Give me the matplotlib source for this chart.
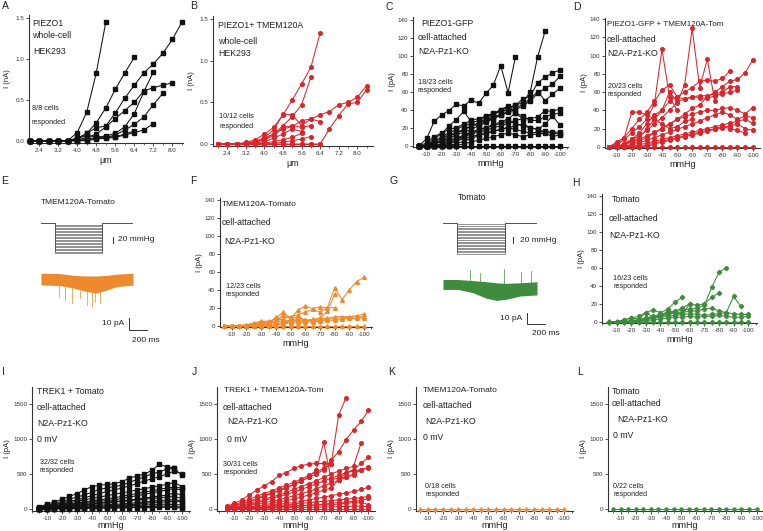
import matplotlib
matplotlib.use("Agg")
import matplotlib.pyplot as plt
from matplotlib.ticker import MultipleLocator

plt.rcParams['font.family'] = ['Liberation Sans', 'DejaVu Sans']

W, H = 763, 531

RED = '#d8262c'
ORANGE = '#ee8a2e'
GREEN = '#3f8c3f'
BLACK = '#111111'
TXT = '#222222'

# ---- data -----------------------------------------------------------
UM = [2.0, 2.4, 2.8, 3.2, 3.6, 4.0, 4.4, 4.8, 5.2, 5.6, 6.0, 6.4, 6.8, 7.2, 7.6, 8.0, 8.4]
UM_TICKS = [2.4, 3.2, 4.0, 4.8, 5.6, 6.4, 7.2, 8.0]
P_STEPS = [-5, -10, -15, -20, -25, -30, -35, -40, -45, -50,
           -55, -60, -65, -70, -75, -80, -85, -90, -95, -100]
P_TICKS = [-10, -20, -30, -40, -50, -60, -70, -80, -90, -100]
P_LABELS = ['-10', '-20', '-30', '-40', '-50', '-60', '-70', '-80', '-90', '-100']
H_LABELS = ['-10', '-20', '-30', '-40', '-50', '-60', '-75', '-80', '-90', '-100']

# A: PIEZO1, whole-cell (nA)
A_cells = [
    [0, 0, 0, 0, 0, 0.10, 0.35, 0.83, 1.45],
    [0, 0, 0, 0, 0, 0.03, 0.09, 0.22, 0.40, 0.63, 0.83, 1.02],
    [0, 0, 0, 0, 0, 0.02, 0.09, 0.16, 0.18, 0.34, 0.52, 0.68, 0.83, 0.94, 1.07, 1.24, 1.45],
    [0, 0, 0, 0, 0, 0.01, 0.04, 0.08, 0.17, 0.27, 0.37, 0.47, 0.61, 0.65, 0.68, 0.71],
    [0, 0, 0, 0, 0, 0, 0.02, 0.04, 0.06, 0.09, 0.17, 0.33, 0.60, 0.84],
    [0, 0, 0, 0, 0, 0, 0.01, 0.03, 0.04, 0.07, 0.13, 0.20, 0.29, 0.44, 0.58],
    [0, 0, 0, 0, 0, 0, 0, 0.02, 0.03, 0.04, 0.07, 0.10, 0.13, 0.21],
    [0, 0, 0, 0, 0, 0.03, 0.06, 0.05, 0.04, 0.05, 0.08, 0.12],
]

# B: PIEZO1 + TMEM120A, whole-cell (nA)
B_cells = [
    [0, 0, 0, 0.02, 0.05, 0.12, 0.20, 0.35, 0.53, 0.72, 0.92, 1.33],
    [0, 0, 0, 0.01, 0.03, 0.06, 0.12, 0.22, 0.33, 0.47, 0.80],
    [0, 0, 0, 0, 0.02, 0.08, 0.17, 0.36, 0.35, 0.22, 0.30, 0.35, 0.39, 0.47, 0.50, 0.56, 0.70],
    [0, 0, 0, 0, 0, 0, 0, 0, 0, 0, 0, 0, 0.18, 0.34, 0.48, 0.50, 0.65],
    [0, 0, 0, 0, 0.03, 0.07, 0.12, 0.18, 0.21, 0.28, 0.30, 0.27],
    [0, 0, 0, 0, 0.02, 0.05, 0.10, 0.20, 0.22, 0.20, 0.22],
    [0, 0, 0, 0, 0.01, 0.03, 0.07, 0.12, 0.18, 0.15],
    [0, 0, 0, 0, 0, 0.01, 0.03, 0.05, 0.08, 0.13],
    [0, 0, 0, 0, 0, 0, 0.01, 0.02, 0.04, 0.06, 0.09],
    [0, 0, 0, 0, 0, 0, 0, 0, 0, 0, 0, 0],
]

# C: PIEZO1-GFP, cell-attached (pA)
C_cells = [
    [0, 8, 27, 34, 39, 46, 44, 51, 47, 58, 67, 89, 59, 99],
    [0, 0, 5, 10, 14, 18, 22, 25, 28, 32, 35, 38, 40, 45, 48, 60, 99, 127],
    [0, 3, 10, 14, 18, 20, 24, 28, 30, 33, 36, 40, 42, 45, 52, 55, 70, 76, 81, 84],
    [0, 0, 4, 8, 12, 15, 18, 22, 25, 28, 30, 34, 37, 40, 44, 50, 58, 64, 68, 77],
    [0, 0, 2, 5, 8, 12, 15, 18, 22, 26, 30, 34, 38, 42, 46, 52, 60, 50, 57, 64],
    [0, 0, 2, 4, 6, 8, 10, 13, 15, 17, 20, 22, 25, 28, 30, 30, 32, 39, 38, 41],
    [0, 0, 0, 2, 5, 8, 12, 15, 18, 20, 24, 26, 30, 36, 33, 28, 28, 32, 35, 36],
    [0, 0, 0, 0, 3, 6, 10, 14, 17, 20, 22, 25, 27, 25, 22, 20, 18, 24, 33, 23],
    [0, 0, 0, 0, 0, 2, 5, 8, 11, 14, 16, 18, 20, 22, 24, 20, 18, 15, 15, 15],
    [0, 0, 0, 0, 0, 0, 2, 4, 6, 8, 10, 12, 14, 12, 10, 12, 13, 14, 10, 12],
    [0, 0, 8, 13, 22, 29, 38, 27, 20, 28, 32, 35],
    [0, 0, 3, 6, 10, 14, 17, 22, 25, 30, 34, 40, 44, 36, 30],
    [0, 0, 0, 0, 3, 5, 8, 10, 12, 14, 16, 18, 20, 18, 16, 14, 15, 16, 14, 13],
    [0, 0, 0, 0, 0, 0, 0, 0, 0, 0, 0, 0, 0, 0, 0, 0, 0, 0, 0, 0],
]

# D: PIEZO1-GFP + TMEM120A-Tom (pA)
D_cells = [
    [0, 2, 8, 15, 22, 30, 47, 107, 55, 40],
    [0, 0, 3, 8, 12, 18, 25, 32, 40, 48, 68, 130, 65, 96, 50],
    [0, 0, 2, 5, 8, 12, 16, 20, 25, 30, 36, 42, 46, 55, 60, 66, 72, 74, 81, 95],
    [0, 0, 3, 8, 15, 25, 35, 40, 50, 55, 60, 65, 72, 73, 72, 75, 83],
    [0, 5, 10, 20, 30, 38, 50, 62, 68, 55, 52, 55, 56, 56, 58, 60, 66, 66],
    [0, 0, 0, 3, 6, 10, 15, 20, 25, 30, 33, 36, 38, 40, 40, 42, 43, 40, 36, 43],
    [0, 0, 0, 2, 4, 7, 10, 13, 16, 19, 22, 25, 28, 32, 35, 38, 35, 30, 34, 32],
    [0, 0, 0, 0, 2, 4, 6, 8, 10, 12, 14, 16, 18, 20, 22, 24, 26, 28, 30, 26],
    [0, 0, 0, 0, 0, 2, 4, 6, 8, 10, 12, 14, 16, 18, 20, 22, 20, 18, 15],
    [0, 4, 10, 38, 38, 35, 30, 25, 20, 22, 28, 30],
    [0, 0, 3, 6, 10, 20, 30, 40, 60, 50, 52, 55, 54, 53, 56, 58, 60, 62],
    [0, 0, 0, 0, 0, 0, 3, 5, 7, 9, 11, 13, 15, 17, 19, 21, 23, 25, 20, 18],
    [0, 0, 0, 0, 0, 0, 0, 0, 0, 0, 0, 0, 0, 0, 0, 0, 0, 0, 0, 0],
]

# F: TMEM120A-Tomato (pA)
F_cells = [
    [0, 0, 0, 1, 3, 5, 5, 5, 8, 10, 12, 15, 18, 15, 20, 42, 29, 40, 49, 54],
    [0, 0, 0, 0, 2, 4, 4, 4, 12, 8, 10, 6, 6, 8, 16, 35],
    [0, 0, 0, 1, 2, 3, 4, 8, 15, 8, 17, 22, 19, 21, 20, 20],
    [0, 0, 0, 0, 0, 2, 3, 4, 5, 6, 6, 6, 7, 8, 8, 10, 10, 10, 11, 13],
    [0, 0, 0, 0, 0, 0, 1, 2, 3, 4, 5, 5, 6, 6, 7, 8, 9, 9, 10, 10],
    [0, 0, 0, 0, 0, 0, 0, 1, 2, 3, 3, 4, 4, 5, 6, 6, 7, 8, 8, 9],
    [0, 0, 0, 0, 0, 0, 2, 10, 5, 4, 9, 6, 5, 5],
    [0, 0, 0, 0, 0, 0, 0, 0, 0, 0, 0, 0, 0, 0, 0, 0, 0, 0, 0, 0],
]

# H: Tomato (pA)
H_cells = [
    [0, 0, 0, 1, 2, 4, 5, 7, 9, 11, 13, 14, 15, 18, 38, 55, 60],
    [0, 0, 2, 4, 6, 10, 13, 10, 14, 22, 27],
    [0, 0, 0, 0, 2, 4, 6, 8, 10, 12, 15, 20, 18, 20, 27, 32],
    [0, 0, 0, 0, 0, 2, 4, 6, 8, 10, 10, 12, 12, 14, 15, 12, 10, 28, 17],
    [0, 0, 0, 1, 2, 3, 4, 5, 6, 7, 8, 9, 8, 7, 8, 9, 10, 9, 8, 8],
    [0, 0, 0, 0, 0, 1, 2, 3, 4, 5, 5, 6, 5, 6, 6, 7, 6, 5, 5, 6],
    [0, 0, 2, 4, 3, 10, 5, 6, 12, 10, 8, 20],
    [0, 0, 0, 0, 0, 0, 0, 0, 0, 0, 0, 0, 0, 0, 0, 0, 0, 0, 0, 0],
]

# I: TREK1 + Tomato (pA)
I_cells = [
    [30, 70, 100, 140, 180, 220, 270, 320, 340, 350, 360, 390, 440, 470, 500, 550, 640, 600, 590],
    [20, 50, 80, 110, 140, 170, 200, 240, 280, 300, 320, 340, 380, 420, 460, 500, 530, 570, 580, 480],
    [15, 40, 60, 90, 110, 130, 160, 190, 220, 250, 270, 300, 330, 360, 400, 430, 460, 500, 540, 500],
    [10, 30, 50, 70, 90, 110, 130, 150, 170, 190, 210, 230, 250, 270, 290, 310, 330, 350, 380, 320],
    [10, 25, 40, 55, 70, 85, 100, 115, 130, 145, 160, 180, 200, 220, 240, 260, 280, 300, 310, 300],
    [10, 20, 30, 45, 60, 70, 80, 95, 110, 120, 130, 150, 170, 190, 210, 230, 250, 270, 290, 270],
    [5, 15, 25, 35, 45, 55, 65, 75, 85, 95, 105, 115, 125, 140, 155, 170, 185, 200, 230, 200],
    [5, 10, 20, 30, 40, 50, 60, 70, 80, 90, 100, 110, 120, 130, 140, 150, 160, 170, 180, 150],
    [0, 10, 15, 20, 30, 35, 40, 50, 55, 60, 65, 70, 80, 90, 100, 110, 120, 130, 130, 120],
    [0, 5, 10, 15, 20, 25, 30, 35, 40, 45, 50, 55, 60, 70, 80, 90, 100, 100, 110, 100],
    [0, 5, 8, 10, 12, 15, 18, 20, 25, 30, 35, 40, 45, 50, 55, 60, 65, 70, 60, 60],
    [0, 0, 5, 5, 10, 10, 15, 15, 20, 20, 25, 25, 30, 30, 35, 35, 40, 40, 30, 30],
    [0, 0, 0, 5, 5, 5, 10, 10, 10, 15, 15, 15, 20, 20, 20, 20, 25, 25, 25, 10],
]

# J: TREK1 + TMEM120A-Tom (pA)
J_cells = [
    [30, 60, 100, 140, 180, 220, 260, 300, 340, 380, 430, 480, 530, 580, 640, 1340, 1590],
    [20, 50, 80, 110, 150, 190, 230, 270, 310, 350, 400, 450, 500, 560, 700, 820, 990, 1130, 1250, 1410],
    [40, 80, 130, 200, 270, 330, 390, 480, 520, 580, 620, 640, 650, 650, 640],
    [20, 40, 70, 100, 140, 180, 220, 260, 300, 350, 400, 460, 560, 950, 420, 440, 460, 480],
    [10, 30, 50, 80, 110, 140, 170, 200, 240, 280, 320, 360, 400, 450, 500, 540, 580, 610, 940],
    [10, 20, 40, 60, 90, 120, 150, 180, 210, 240, 280, 320, 360, 400, 440, 480, 520, 560, 650, 740],
    [10, 20, 30, 50, 70, 90, 110, 130, 160, 190, 220, 250, 290, 330, 370, 410, 450, 500, 560, 600],
    [0, 10, 20, 30, 40, 60, 80, 100, 120, 140, 170, 200, 230, 270, 300, 420, 520, 540, 560, 580],
    [0, 10, 20, 30, 40, 50, 60, 70, 80, 90, 110, 130, 150, 170, 190, 210, 230, 250, 280, 310],
    [0, 5, 10, 15, 20, 30, 40, 50, 60, 70, 80, 90, 100, 110, 120, 130, 140, 150, 160, 180],
    [0, 5, 10, 15, 20, 25, 30, 35, 40, 45, 50, 55, 60, 70, 80, 90, 100, 110, 120, 150],
    [0, 0, 5, 10, 15, 20, 25, 30, 35, 40, 45, 50, 55, 60, 60, 70, 80, 90, 100, 60],
    [0, 0, 0, 5, 5, 10, 10, 15, 15, 20, 20, 25, 25, 30, 30, 35, 35, 40, 40, 30],
    [0, 0, 0, 0, 0, 0, 0, 0, 0, 0, 0, 0, 0, 0, 0, 0, 0, 0, 0, 0],
]

K_cells = [[0, 0, 0, 0, 0, 0, 0, 0, 0, 0, 0, 0, 0, 0, 0, 0, 0, 0, 0, 0]]
L_cells = [[0, 0, 0, 0, 0, 0, 0, 0, 0, 0, 0, 0, 0, 0, 0, 0, 0, 0, 0, 0]]

# E / G: pressure protocol (ms) and current envelopes (pA)
PROTO_T = [0, 150, 150, 660, 660, 1000]
E_T = [0, 207, 351, 496, 605, 714, 822, 1000]
E_UP = [4.8, 4.5, 3, 2.5, 2.5, 3, 4, 4.8]
E_LO = [-5, -5.5, -7.5, -10.5, -11.7, -9.2, -6.4, -5]
E_SPIKE_T = [199, 261, 333, 424, 496, 551, 587, 641]
E_SPIKE_I = [-14.7, -17.5, -20, -16, -21.7, -23, -19, -20]
G_T = [0, 160, 320, 460, 570, 670, 820, 1000]
G_UP = [5, 5, 4, 3, 2, 1.5, 2, 3]
G_LO = [-4, -4, -7, -12, -14, -13, -10, -9]
G_SPIKE_T = [284, 390, 645, 833, 940]
G_SPIKE_I = [14, 11, 15, 12, 13]

# ---- figure ----------------------------------------------------------
fig = plt.figure(figsize=(W / 100, H / 100), dpi=100)


def px_axes(l, r, t, b):
    return fig.add_axes([l / W, 1 - b / H, (r - l) / W, (b - t) / H])


def ftext(x, y, s, size=6.3, **kw):
    fig.text(x / W, 1 - y / H, s, fontsize=size, color=TXT, va='center', ha='left', **kw)


def style(ax):
    for s in ['top', 'right']:
        ax.spines[s].set_visible(False)
    for s in ['left', 'bottom']:
        ax.spines[s].set_linewidth(0.8)
        ax.spines[s].set_color('#333333')
    ax.tick_params(which='major', length=2.2, width=0.6, labelsize=4.5, pad=1.2, colors='#333333')
    ax.tick_params(which='minor', length=1.3, width=0.5, colors='#333333')


def draw(ax, xs, cells, color, marker, ms):
    for c in cells:
        ax.plot(xs[:len(c)], c, color=color, lw=0.75, marker=marker, ms=ms,
                mec=color, mfc=color, clip_on=False, zorder=3)


def pressure_panel(box, cells, color, marker, ms, xlim, ylim, yticks, labels=P_LABELS, xpad=1.5):
    ax = px_axes(*box)
    draw(ax, P_STEPS, cells, color, marker, ms)
    ax.set_xlim(*xlim)
    ax.set_ylim(*ylim)
    ax.set_xticks(P_TICKS)
    ax.set_xticklabels(labels)
    ax.xaxis.set_minor_locator(MultipleLocator(5))
    ax.set_yticks(yticks)
    style(ax)
    ax.set_xlabel('mmHg', fontsize=6.5, labelpad=xpad, color=TXT)
    ax.set_ylabel('I (pA)', fontsize=5.5, labelpad=1.5, color=TXT)
    return ax


# A
ax = px_axes(29, 183, 15, 143)
draw(ax, UM, A_cells, BLACK, 's', 2.4)
ax.set_xlim(1.97, 8.45)
ax.set_ylim(-0.028, 1.54)
ax.set_xticks(UM_TICKS)
ax.xaxis.set_minor_locator(MultipleLocator(0.4))
ax.set_yticks([0, 0.5, 1.0, 1.5])
ax.set_yticklabels(['0.0', '0.5', '1.0', '1.5'])
style(ax)
ax.set_xlabel('\u03bcm', fontsize=6.5, labelpad=2.5, color=TXT)
ax.set_ylabel('I (nA)', fontsize=5.5, labelpad=3, color=TXT)

# B
ax = px_axes(213, 373, 16, 146)
draw(ax, UM, B_cells, RED, 'o', 2.6)
ax.set_xlim(1.78, 8.68)
ax.set_ylim(-0.024, 1.536)
ax.set_xticks(UM_TICKS)
ax.xaxis.set_minor_locator(MultipleLocator(0.4))
ax.set_yticks([0, 0.5, 1.0, 1.5])
ax.set_yticklabels(['0.0', '0.5', '1.0', '1.5'])
style(ax)
ax.set_xlabel('\u03bcm', fontsize=6.5, labelpad=2.5, color=TXT)
ax.set_ylabel('I (nA)', fontsize=5.5, labelpad=3, color=TXT)

Y140 = [0, 20, 40, 60, 80, 100, 120, 140]
Y1500 = [0, 500, 1000, 1500]
pressure_panel((413, 568, 17, 147), C_cells, BLACK, 's', 2.4, (-0.7, -105.5), (-1.5, 143), Y140)
pressure_panel((605, 760, 18, 148), D_cells, RED, 'o', 2.6, (-2.3, -104.9), (-1.4, 141.4), Y140)
pressure_panel((220, 372, 198, 327), F_cells, ORANGE, '^', 2.6, (-2.0, -105.4), (-1.5, 142), Y140)
pressure_panel((602, 757, 194, 323), H_cells, GREEN, 'D', 2.2, (0, -106), (-1.5, 142), Y140, H_LABELS)
pressure_panel((32, 190, 387, 511), I_cells, BLACK, 's', 2.4, (0, -105.5), (-29, 1743), Y1500, xpad=0.5)
pressure_panel((217, 375, 387, 511), J_cells, RED, 'o', 2.6, (1.6, -104.4), (-29, 1743), Y1500, xpad=0.5)
pressure_panel((416, 573, 387, 511), K_cells, ORANGE, '^', 2.6, (-2.3, -105.6), (-29, 1743), Y1500, xpad=0.5)
pressure_panel((608, 762, 387, 511), L_cells, GREEN, 'o', 2.2, (-1.6, -103.6), (-29, 1743), Y1500, xpad=0.5)


# E / G traces
def protocol(box, ylim, bar_t, bar_y, txt_t):
    ax = px_axes(*box)
    for lv in P_STEPS:
        ax.plot(PROTO_T, [0, 0, lv, lv, 0, 0], color='#555555', lw=0.45)
    ax.plot([bar_t, bar_t], bar_y, color='#333333', lw=0.7, clip_on=False)
    ax.text(txt_t, sum(bar_y) / 2, '20 mmHg', fontsize=6, color=TXT, va='center', ha='left', clip_on=False)
    ax.set_xlim(0, 1000)
    ax.set_ylim(*ylim)
    ax.axis('off')


def current(box, ylim, t, up, lo, st, si, color, bar_t, bar_y, lab_t, lab2_t, lab2_y):
    ax = px_axes(*box)
    ax.fill_between(t, lo, up, color=color, lw=0)
    for ts, v in zip(st, si):
        ax.plot([ts, ts], [0, v], color=color, lw=0.5)
    ax.plot([bar_t, bar_t, bar_t + 200], [bar_y[0], bar_y[1], bar_y[1]], color='#333333', lw=0.7, clip_on=False)
    ax.text(lab_t, sum(bar_y) / 2, '10 pA', fontsize=6, color=TXT, va='center', ha='right', clip_on=False)
    ax.text(lab2_t, lab2_y, '200 ms', fontsize=6, color=TXT, va='center', ha='left', clip_on=False)
    ax.set_xlim(0, 1000)
    ax.set_ylim(*ylim)
    ax.axis('off')


protocol((41, 133, 213, 263), (-132, 33), 783, (-46, -66), 837)
current((41, 133, 263, 345), (-55, 13.3), E_T, E_UP, E_LO, E_SPIKE_T, E_SPIKE_I, ORANGE,
        957, (-32.5, -42.5), 902, 989, -51)
protocol((443, 537, 213, 263), (-129, 32), 745, (-46, -66), 819)
current((443, 537, 263, 345), (-54.5, 20), G_T, G_UP, G_LO, G_SPIKE_T, G_SPIKE_I, GREEN,
        890, (-25.5, -35.5), 840, 950, -44)
ftext(41, 202, 'TMEM120A-Tomato', 6)
ftext(458, 198, 'Tomato', 6.3)

# panel texts
ftext(32, 23, 'PIEZO1')
ftext(32, 36, 'whole-cell')
ftext(33, 52, 'HEK293')
ftext(32, 108, '8/8 cells', 5.2)
ftext(32, 122, 'responded', 5.2)

ftext(218, 25, 'PIEZO1+ TMEM120A')
ftext(218, 41, 'whole-cell')
ftext(218, 53, 'HEK293')
ftext(219, 117, '10/12 cells', 5.2)
ftext(219, 126, 'responded', 5.2)

ftext(421, 23, 'PIEZO1-GFP')
ftext(418, 38, 'cell-attached')
ftext(418, 52, 'N2A-Pz1-KO')
ftext(418, 82, '18/23 cells', 5.2)
ftext(418, 90, 'responded', 5.2)

ftext(607, 24, 'PIEZO1-GFP + TMEM120A-Tom', 5.8)
ftext(607, 40, 'cell-attached')
ftext(607, 53, 'N2A-Pz1-KO')
ftext(608, 86, '20/23 cells', 5.2)
ftext(608, 94, 'responded', 5.2)

ftext(222, 204, 'TMEM120A-Tomato', 6)
ftext(222, 223, 'cell-attached')
ftext(224, 241, 'N2A-Pz1-KO')
ftext(226, 286, '12/23 cells', 5.2)
ftext(226, 295, 'responded', 5.2)

ftext(612, 199, 'Tomato')
ftext(609, 218, 'cell-attached')
ftext(609, 235, 'N2A-Pz1-KO')
ftext(613, 278, '16/23 cells', 5.2)
ftext(613, 287, 'responded', 5.2)

ftext(37, 392, 'TREK1 + Tomato')
ftext(37, 408, 'cell-attached')
ftext(37, 423, 'N2A-Pz1-KO')
ftext(37, 439, '0 mV')
ftext(40, 463, '32/32 cells', 5.2)
ftext(40, 471, 'responded', 5.2)

ftext(224, 391, 'TREK1 + TMEM120A-Tom', 6)
ftext(223, 407, 'cell-attached')
ftext(227, 422, 'N2A-Pz1-KO')
ftext(227, 439, '0 mV')
ftext(223, 465, '30/31 cells', 5.2)
ftext(223, 473, 'responded', 5.2)

ftext(423, 391, 'TMEM120A-Tomato', 6)
ftext(423, 405, 'cell-attached')
ftext(425, 422, 'N2A-Pz1-KO')
ftext(423, 438, '0 mV')
ftext(425, 486, '0/18 cells', 5.2)
ftext(425, 494, 'responded', 5.2)

ftext(612, 391, 'Tomato')
ftext(612, 403, 'cell-attached')
ftext(617, 419, 'N2A-Pz1-KO')
ftext(613, 435, '0 mV')
ftext(613, 487, '0/22 cells', 5.2)
ftext(613, 495, 'responded', 5.2)

# panel letters
for letter, x, y in [('A', 2, 6), ('B', 190, 6), ('C', 385, 7), ('D', 573, 7),
                     ('E', 1, 181), ('F', 190, 181), ('G', 390, 181), ('H', 572, 183),
                     ('I', 2, 372), ('J', 192, 372), ('K', 388, 372), ('L', 577, 372)]:
    ftext(x, y, letter, 7.5)

fig.savefig('out.png', dpi=100)
